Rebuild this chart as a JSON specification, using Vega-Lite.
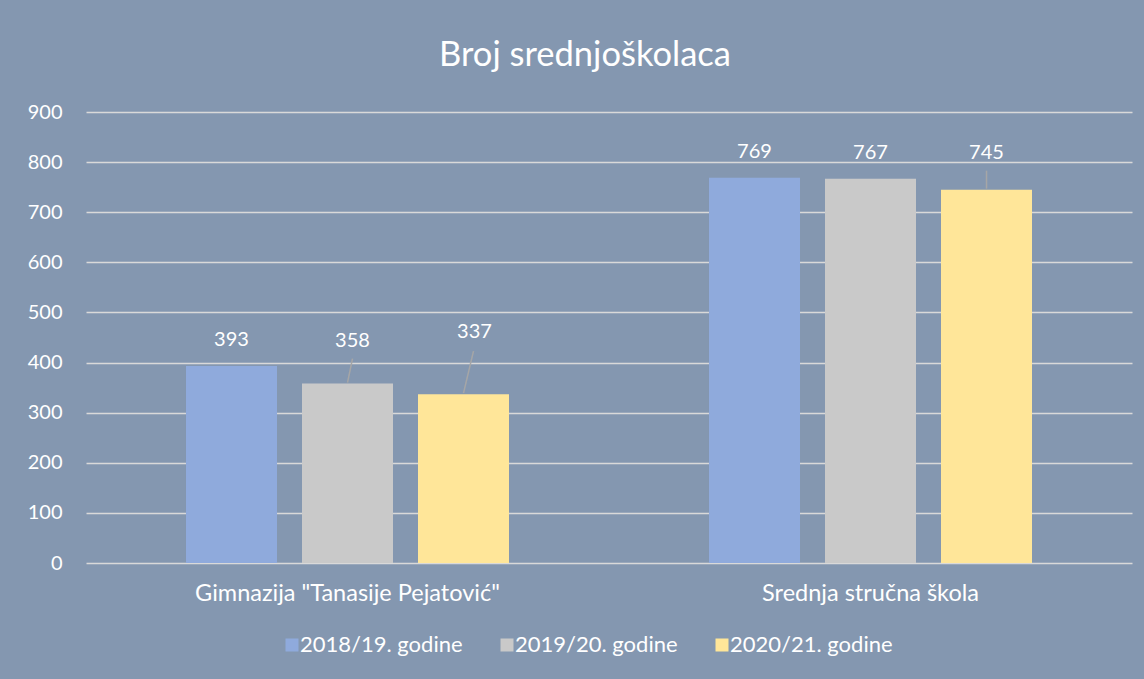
{
  "$schema": "https://vega.github.io/schema/vega-lite/v6.json",
  "width": 1046,
  "height": 451,
  "autosize": {"type": "none"},
  "padding": {"left": 86, "top": 112, "right": 12, "bottom": 116},
  "background": "#8497B0",
  "config": {
    "view": {"stroke": null},
    "font": "Lato",
    "text": {"font": "Lato"}
  },
  "title": {
    "text": "Broj srednjoškolaca",
    "font": "Lato",
    "fontSize": 34.5,
    "fontWeight": "normal",
    "color": "#FFFFFF",
    "anchor": "middle",
    "dx": -24,
    "offset": 29
  },
  "data": {
    "values": [
      {"Category": "Gimnazija \"Tanasije Pejatović\"", "Year": "2018/19. godine", "Count": 393},
      {"Category": "Gimnazija \"Tanasije Pejatović\"", "Year": "2019/20. godine", "Count": 358},
      {"Category": "Gimnazija \"Tanasije Pejatović\"", "Year": "2020/21. godine", "Count": 337},
      {"Category": "Srednja stručna škola", "Year": "2018/19. godine", "Count": 769},
      {"Category": "Srednja stručna škola", "Year": "2019/20. godine", "Count": 767},
      {"Category": "Srednja stručna škola", "Year": "2020/21. godine", "Count": 745}
    ]
  },
  "encoding": {
    "x": {
      "field": "Category",
      "type": "nominal",
      "sort": null,
      "scale": {"paddingInner": 0, "paddingOuter": 0},
      "axis": {
        "title": null,
        "labelAngle": 0,
        "labelFont": "Lato",
        "labelFontSize": 23.5,
        "labelLimit": 0,
        "labelColor": "#FFFFFF",
        "labelPadding": 18,
        "ticks": false,
        "domain": false,
        "labelBaseline": "top"
      }
    },
    "xOffset": {
      "field": "Year",
      "type": "nominal",
      "sort": null,
      "scale": {"paddingInner": 0.2155, "paddingOuter": 0.862}
    },
    "y": {
      "field": "Count",
      "type": "quantitative",
      "scale": {"domain": [0, 900], "nice": false},
      "axis": {
        "title": null,
        "values": [0, 100, 200, 300, 400, 500, 600, 700, 800, 900],
        "labelFont": "Lato",
        "labelFontSize": 20,
        "labelColor": "#FFFFFF",
        "labelPadding": 24,
        "ticks": false,
        "domain": false,
        "grid": true,
        "gridColor": "#D9D9D9",
        "gridWidth": 1.5,
        "gridOpacity": 1
      }
    }
  },
  "layer": [
    {
      "mark": {"type": "bar"},
      "encoding": {
        "color": {
          "field": "Year",
          "type": "nominal",
          "sort": null,
          "scale": {
            "domain": ["2018/19. godine", "2019/20. godine", "2020/21. godine"],
            "range": ["#8FAADC", "#C9C9C9", "#FFE699"]
          },
          "legend": {
            "title": null,
            "orient": "none",
            "direction": "horizontal",
            "legendX": 195,
            "legendY": 522,
            "symbolType": "square",
            "symbolSize": 169,
            "symbolStrokeWidth": 0,
            "symbolOpacity": 1,
            "labelFont": "Lato",
            "labelFontSize": 22,
            "labelLimit": 0,
            "labelColor": "#FFFFFF",
            "labelOffset": -3,
            "columnPadding": 33
          }
        }
      }
    },
    {
      "transform": [{"filter": "datum.Count == 393 || datum.Count == 769 || datum.Count == 767"}],
      "mark": {"type": "text", "dy": -26, "baseline": "middle", "fontSize": 20, "color": "#FFFFFF", "font": "Lato"},
      "encoding": {"text": {"field": "Count", "type": "quantitative"}}
    },
    {
      "transform": [{"filter": "datum.Count == 358"}],
      "mark": {"type": "text", "dy": -43, "dx": 5, "baseline": "middle", "fontSize": 20, "color": "#FFFFFF", "font": "Lato"},
      "encoding": {"text": {"field": "Count", "type": "quantitative"}}
    },
    {
      "transform": [{"filter": "datum.Count == 337"}],
      "mark": {"type": "text", "dy": -62, "dx": 11, "baseline": "middle", "fontSize": 20, "color": "#FFFFFF", "font": "Lato"},
      "encoding": {"text": {"field": "Count", "type": "quantitative"}}
    },
    {
      "transform": [{"filter": "datum.Count == 745"}],
      "mark": {"type": "text", "dy": -37, "baseline": "middle", "fontSize": 20, "color": "#FFFFFF", "font": "Lato"},
      "encoding": {"text": {"field": "Count", "type": "quantitative"}}
    },
    {
      "transform": [{"filter": "datum.Count == 358"}],
      "mark": {"type": "rule", "color": "#A6A6A6", "strokeWidth": 1.5, "x2Offset": 5, "yOffset": -1, "y2Offset": -25},
      "encoding": {"x2": {"field": "Category"}, "y2": {"field": "Count"}}
    },
    {
      "transform": [{"filter": "datum.Count == 337"}],
      "mark": {"type": "rule", "color": "#A6A6A6", "strokeWidth": 1.5, "x2Offset": 126, "yOffset": -1, "y2Offset": -43},
      "encoding": {"x2": {"field": "Category"}, "y2": {"field": "Count"}}
    },
    {
      "transform": [{"filter": "datum.Count == 745"}],
      "mark": {"type": "rule", "color": "#A6A6A6", "strokeWidth": 1.5, "yOffset": -19, "y2Offset": -1},
      "encoding": {"y2": {"field": "Count"}}
    }
  ]
}
